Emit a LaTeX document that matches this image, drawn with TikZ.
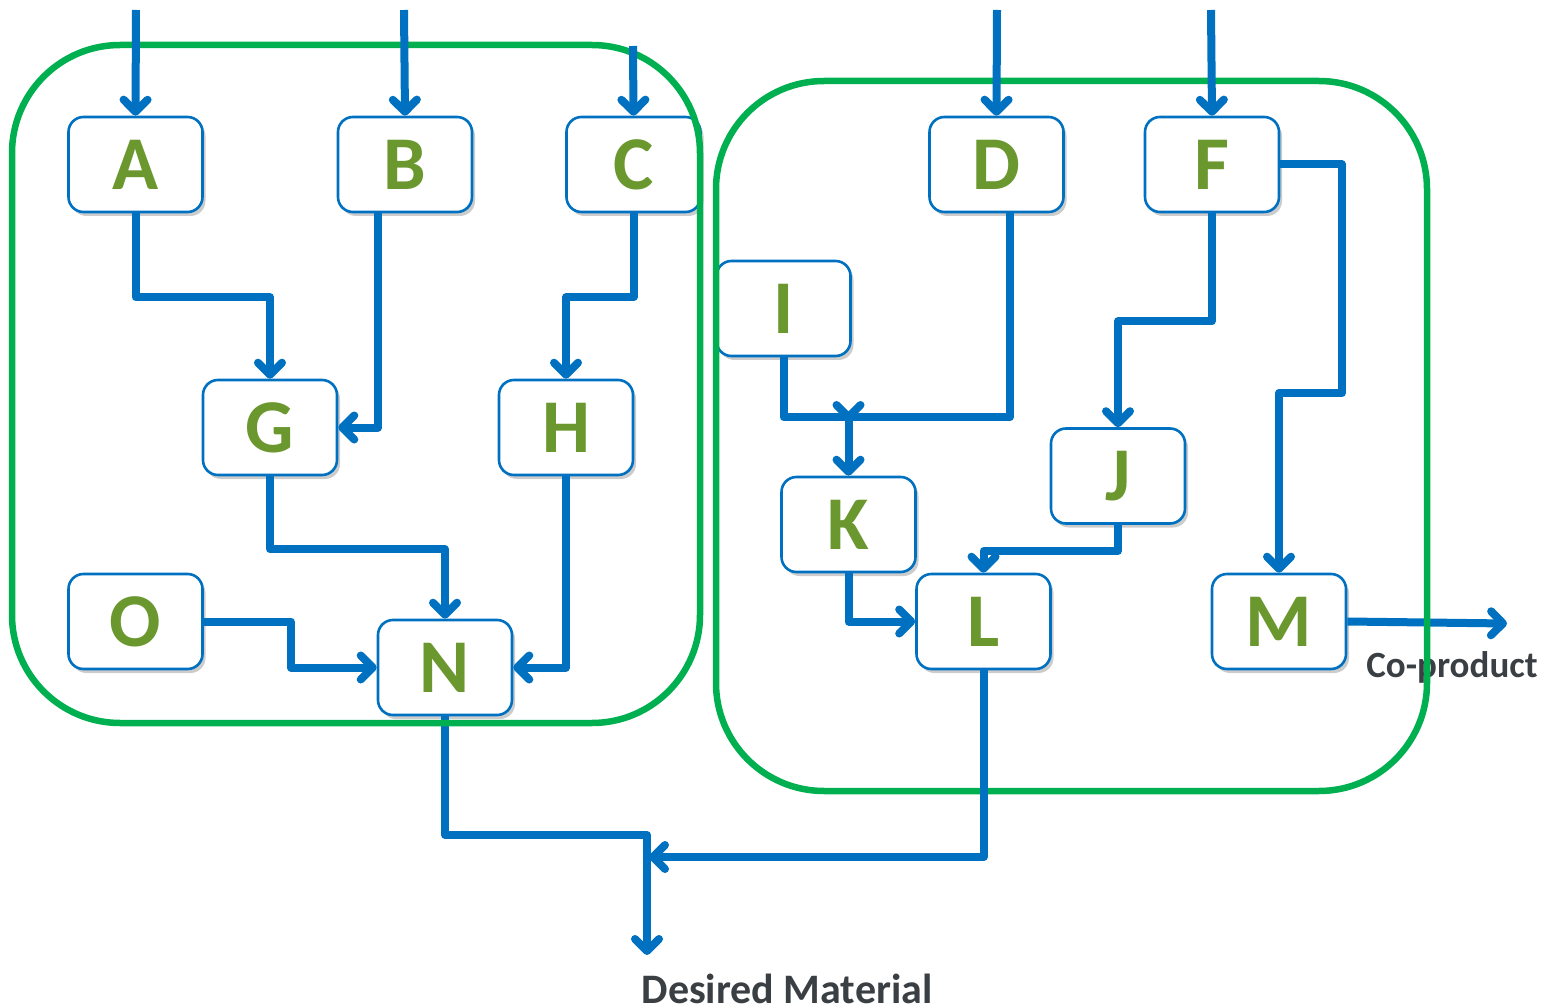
\documentclass[tikz,border=0pt]{standalone}
\usepackage{fontspec}
\newfontfamily\cf{Carlito}
\usetikzlibrary{arrows.meta,shadows}
\definecolor{flowblue}{RGB}{0,112,192}
\definecolor{framegreen}{RGB}{0,176,80}
\definecolor{lettergreen}{RGB}{106,152,46}
\definecolor{labelgray}{RGB}{58,63,68}
\tikzset{
  procbox/.style={draw=flowblue, line width=2.6pt, fill=white, rounded corners=15pt,
    minimum width=134pt, minimum height=95pt, inner sep=0pt,
    text=lettergreen, font=\cf\bfseries\fontsize{76}{80}\selectfont,
    drop shadow={shadow xshift=3pt, shadow yshift=-4pt, fill=black, opacity=0.2}},
  flow/.style={draw=flowblue, line width=8pt, line join=round,
    -{Straight Barb[length=12pt,width=24pt,round]}},
  greenframe/.style={draw=framegreen, line width=6.5pt, rounded corners=108pt},
  lab/.style={text=labelgray, font=\cf\bfseries, inner sep=0pt, anchor=base}
}
\begin{document}
\begin{tikzpicture}[x=1pt,y=-1pt]
\useasboundingbox (0,0) rectangle (1543,1008);
% boxes
\node[procbox] (A) at (135.5,164.5) {A};
\node[procbox] (B) at (405,164.5) {B};
\node[procbox] (C) at (633.5,164.5) {C};
\node[procbox] (D) at (996.5,164.5) {D};
\node[procbox] (F) at (1212,164.5) {F};
\node[procbox] (I) at (783.5,308.5) {I};
\node[procbox] (G) at (270,427.5) {G};
\node[procbox] (H) at (566,427.5) {H};
\node[procbox] (J) at (1118,476) {J};
\node[procbox] (K) at (848.5,524.5) {K};
\node[procbox] (O) at (135.5,621.5) {O};
\node[procbox] (L) at (983.5,621.5) {L};
\node[procbox] (M) at (1279,621.5) {M};
\node[procbox] (N) at (445,667.5) {N};
% coordinates
\coordinate (inA) at (136,10);
\coordinate (inB) at (404,10);
\coordinate (inC) at (633,46);
\coordinate (inD) at (997,10);
\coordinate (inF) at (1211,10);
\coordinate (mj) at (647,835);
\coordinate (dm) at (647,955);
\coordinate (lj) at (649,857);
\coordinate (kj) at (848.5,421);
\coordinate (co) at (1507,623.5);
% connectors under the frames
\draw[flow] (N.south) |- (mj) -- (dm);
\draw[flow] (M.east) -- (co);
\node[lab, font=\cf\bfseries\fontsize{37}{40}\selectfont] (colab) at (1452,677) {Co-product};
% frames
\draw[greenframe] (12,45) rectangle (700,723);
\draw[greenframe] (716,81) rectangle (1427,791);
% connectors
\draw[flow] (inA) -- (A.north);
\draw[flow] (inB) -- (B.north);
\draw[flow] (inC) -- (C.north);
\draw[flow] (inD) -- (D.north);
\draw[flow] (inF) -- (F.north);
\draw[flow] (A.south) -- ++(0,84) -| (G.north);
\draw[flow] ([xshift=-27pt]B.south) |- (G.east);
\draw[flow] (C.south) -- ++(0,84) -| (H.north);
\draw[flow] (G.south) -- ++(0,73) -| (N.north);
\draw[flow] (H.south) |- (N.east);
\draw[flow] (O.east) -- ++(87,0) |- (N.west);
\draw[flow] ([xshift=13.5pt]D.south) -- ++(0,204) -| (K.north);
\draw[flow] (I.south) -- ++(0,60) -| (kj);
\draw[flow] (F.south) -- ++(0,108) -| (J.north);
\draw[flow] (F.east) -| (1342,393) -| (M.north);
\draw[flow] (J.south) -- ++(0,26) -| (L.north);
\draw[flow] (K.south) |- (L.west);
\draw[flow] (L.south) |- (lj);
% label
\node[lab, font=\cf\bfseries\fontsize{42}{46}\selectfont] (dmlab) at (787,1003) {Desired Material};
\end{tikzpicture}
\end{document}
